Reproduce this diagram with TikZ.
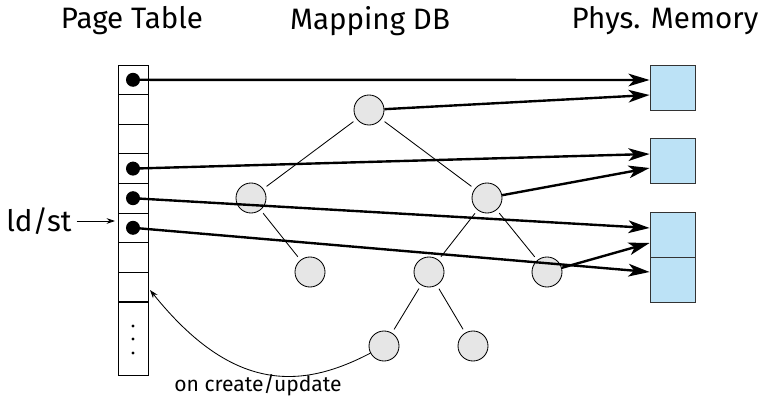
\documentclass[tikz,border=0pt]{standalone}
\usepackage{fontspec}
\setmainfont{Fira Sans}
\usepackage{xcolor}
\usetikzlibrary{arrows.meta, positioning}

\definecolor{memblue}{RGB}{188,226,246}
\definecolor{entrygray}{RGB}{230,230,230}

\begin{document}
\begin{tikzpicture}[x=0.025cm, y=-0.025cm, semithick,
    title/.style={font=\fontsize{21}{26}\selectfont},
    note/.style={font=\fontsize{15}{18}\selectfont},
    cell/.style={rectangle, draw, minimum width=0.75cm, minimum height=0.74cm, inner sep=0pt},
    ptr/.style={circle, fill, minimum size=0.35cm, inner sep=0pt},
    entry/.style={circle, draw, fill=entrygray, minimum size=0.75cm, inner sep=0pt},
    frame/.style={rectangle, draw=black!80, fill=memblue, minimum size=1.125cm, inner sep=0pt},
    link/.style={shorten <=0.1cm, shorten >=0.1cm},
    ref/.style={-{Stealth[length=15pt, width=9pt, inset=4pt]}, line width=1.7pt}]
    \useasboundingbox (0,0) rectangle (769,400);

    % Titles
    \node[title] (pt) at (132,21) {Page Table};
    \node[title] (db) at (370,21) {Mapping DB};
    \node[title] (pm) at (665,21) {Phys. Memory};

    % Page table
    \foreach \i in {1,...,8}
        \node[cell] (c\i) at (133,{65+29.6*(\i-0.5)}) {};
    \node[cell, minimum height=1.825cm] (c9) at (133,338.5) {};
    \foreach \y/\n in {326/1, 339/2, 353/3}
        \node[circle, fill, minimum size=0.08cm, inner sep=0pt] (d\n) at (133,\y) {};
    \node[ptr] (p1) at (c1) {};
    \node[ptr] (p4) at (c4) {};
    \node[ptr] (p5) at (c5) {};
    \node[ptr] (p6) at (c6) {};

    % Mapping DB
    \node[entry] (r) at (369,110) {};
    \node[entry] (a) at (251,198) {};
    \node[entry] (b) at (487,198) {};
    \node[entry] (a1) at (310,272) {};
    \node[entry] (b1) at (429,272) {};
    \node[entry] (b2) at (547,272) {};
    \node[entry] (b11) at (384,346) {};
    \node[entry] (b12) at (473,346) {};
    \draw[link] (r) -- (a);
    \draw[link] (r) -- (b);
    \draw[link] (a) -- (a1);
    \draw[link] (b) -- (b1);
    \draw[link] (b) -- (b2);
    \draw[link] (b1) -- (b11);
    \draw[link] (b1) -- (b12);

    % Phys. memory
    \node[frame] (m1) at (672.5,87.5) {};
    \node[frame] (m2) at (672.5,161) {};
    \node[frame] (m3) at (672.5,235) {};
    \node[frame] (m4) at (672.5,280) {};

    % Mappings
    \draw[ref] (p1.center) -- ([yshift=0.1875cm]m1.west);
    \draw[ref] (r) -- ([yshift=-0.1875cm]m1.west);
    \draw[ref] (p4.center) -- ([yshift=0.175cm]m2.west);
    \draw[ref] (b) -- ([yshift=-0.175cm]m2.west);
    \draw[ref] (p5.center) -- ([yshift=0.175cm]m3.west);
    \draw[ref] (b2) -- ([yshift=-0.2cm]m3.west);
    \draw[ref] (p6.center) -- ([yshift=0.2cm]m4.west);

    % Access and update
    \node[title] (ldst) at (39,221) {ld/st};
    \coordinate (ldin) at (115,221);
    \draw[-{Stealth[length=6pt, width=4pt]}] (ldst) -- (ldin);
    \coordinate (upd) at (150,290);
    \draw[-{Stealth[length=6pt, width=4pt]}] (b11) .. controls (300,390) and (232,392) .. (upd);
    \node[note] (updl) at (258,385) {on create/update};
\end{tikzpicture}
\end{document}
